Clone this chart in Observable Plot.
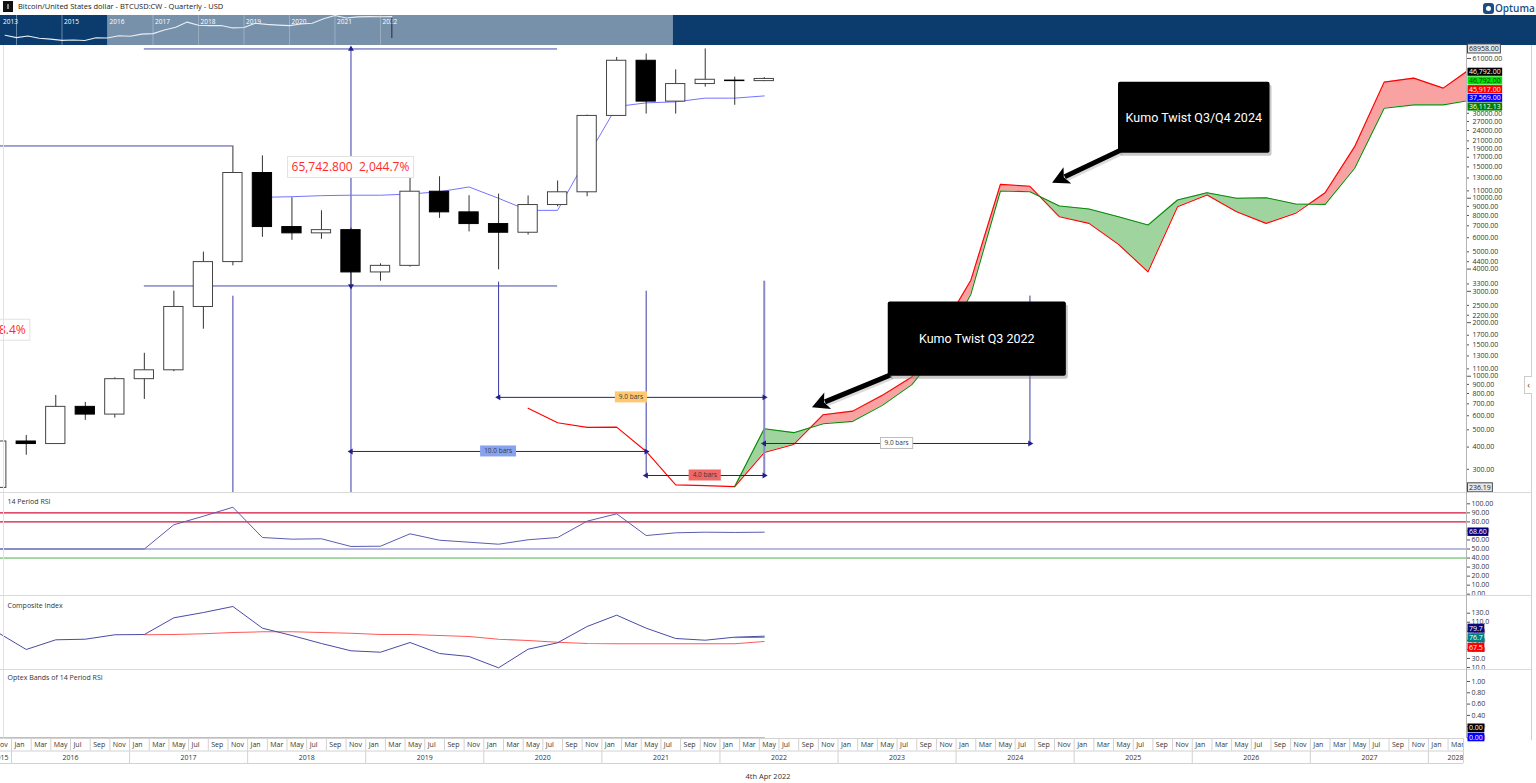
<!DOCTYPE html>
<html>
<head>
<meta charset="utf-8">
<script src="https://cdn.jsdelivr.net/npm/d3@7"></script>
<script src="https://cdn.jsdelivr.net/npm/@observablehq/plot@0.6"></script>
<style>
  html,body{margin:0;padding:0;background:#fff;}
  #root{position:relative;width:1536px;height:783px;overflow:hidden;background:#fff;font-family:'Open Sans',sans-serif;color:#333;}
  .ln{position:absolute;background:#d9d9d9;}
</style>
</head>
<body>
<div id="root">
  <div style="position:absolute;left:3px;top:1px;width:10px;height:11px;background:#111;"></div>
  <div style="position:absolute;left:7px;top:4px;width:2px;height:5px;background:#888;"></div>
  <div style="position:absolute;left:18px;top:0;height:13px;line-height:13px;font-size:7.5px;color:#222;white-space:nowrap;">Bitcoin/United States dollar - BTCUSD:CW - Quarterly - USD</div>
  <div style="position:absolute;left:1483px;top:3px;width:11px;height:11px;border-radius:3px;background:#1b4f82;"></div>
  <div style="position:absolute;left:1486px;top:6px;width:5px;height:5px;border-radius:50%;background:#fff;"></div>
  <div style="position:absolute;left:1495px;top:0px;font-size:10px;line-height:16px;color:#1b4f82;font-weight:600;white-space:nowrap;">Optuma</div>
  <div style="position:absolute;left:0;top:771px;width:1536px;text-align:center;font-size:7.5px;line-height:10px;color:#333;">4th Apr 2022</div>
</div>
<script>
// ================= DATA =================
const quarters = ["2015 Q4","2016 Q1","2016 Q2","2016 Q3","2016 Q4","2017 Q1","2017 Q2","2017 Q3","2017 Q4","2018 Q1","2018 Q2","2018 Q3","2018 Q4","2019 Q1","2019 Q2","2019 Q3","2019 Q4","2020 Q1","2020 Q2","2020 Q3","2020 Q4","2021 Q1","2021 Q2","2021 Q3","2021 Q4","2022 Q1","2022 Q2"];
const open  = [236, 430, 416, 673, 609, 963, 1080, 2450, 4378, 13860, 6890, 6350, 6620, 3830, 4170, 10880, 8330, 7160, 6400, 9160, 10800, 29000, 59200, 34900, 43800, 45800, 45500];
const high  = [504, 465, 780, 713, 980, 1346, 3005, 4980, 19666, 17300, 10070, 8500, 6800, 4280, 13390, 13200, 10330, 10550, 10300, 12500, 29300, 61800, 64600, 52600, 68958, 47900, 47600];
const low   = [235, 360, 415, 565, 582, 741, 1060, 1838, 4170, 6030, 5800, 5880, 3215.2, 3420, 4100, 7710, 6470, 3960, 6210, 8950, 10200, 28800, 29700, 29700, 42100, 33300, 45200];
const close = [430, 416, 673, 609, 963, 1080, 2450, 4378, 13860, 6890, 6350, 6620, 3830, 4170, 10880, 8330, 7160, 6400, 9160, 10800, 29000, 59200, 34900, 43800, 46300, 45500, 46792];

const kijunQuarters = ["2018 Q1","2018 Q2","2018 Q3","2018 Q4","2019 Q1","2019 Q2","2019 Q3","2019 Q4","2020 Q1","2020 Q2","2020 Q3","2020 Q4","2021 Q1","2021 Q2","2021 Q3","2021 Q4","2022 Q1","2022 Q2"];
const kijun = [10120, 10200, 10340, 10400, 10400, 10560, 10880, 11570, 9990, 8550, 8550, 17000, 32740, 34340, 34800, 36500, 36500, 37569];

const spanQuarters = ["2020 Q2","2020 Q3","2020 Q4","2021 Q1","2021 Q2","2021 Q3","2021 Q4","2022 Q1","2022 Q2","2022 Q3","2022 Q4","2023 Q1","2023 Q2","2023 Q3","2023 Q4","2024 Q1","2024 Q2","2024 Q3","2024 Q4","2025 Q1","2025 Q2","2025 Q3","2025 Q4","2026 Q1","2026 Q2","2026 Q3","2026 Q4","2027 Q1","2027 Q2","2027 Q3","2027 Q4","2028 Q1","2028 Q2"];
const spanRed = [662, 548, 516, 518, 378, 245.5, 243, 240, 373, 414, 608, 637, 781, 990, 1813, 3465, 11970, 11670, 7870, 7225, 5505, 3860, 8960, 10420, 8400, 7225, 8225, 10740, 19490, 44900, 47300, 41550, 54480];
const spanGreenQuarters = spanQuarters.slice(7);
const spanGreen = [240, 507, 482, 541, 558, 686, 897, 1436, 2890, 10980, 10880, 9040, 8700, 7870, 7070, 9770, 10740, 9990, 10070, 9280, 9240, 14740, 32060, 33460, 33460, 35700];

const rsi = [50, 50, 50, 50, 50, 50, 76.8, 86.3, 96.2, 62.7, 60.9, 61.3, 52.8, 53.1, 66.8, 59.7, 57.5, 55.3, 60.2, 62.7, 80.8, 88.9, 64.9, 67.9, 68.6, 68.3, 68.6];
const rsiUpperLevels = [90, 80];
const rsiMidLevel = [50];
const rsiLowLevel = [40];

const compositeFast = [88.7, 49.8, 71.2, 72.5, 82.3, 82.9, 119.8, 131.5, 144.8, 96.9, 80.7, 63, 46.9, 43.8, 65.2, 40.9, 34.3, 9.3, 50.4, 64.6, 100.6, 125.6, 96.9, 74.1, 70.3, 77, 79.2];
const compositeSlowQuarters = quarters.slice(5);
const compositeSlow = [82.3, 82.9, 84.5, 87.3, 88.9, 88.9, 87.3, 85.8, 82.9, 82.9, 80.7, 78.5, 72.5, 69.7, 65.9, 63, 62.4, 62.4, 62.4, 62.4, 62.4, 67.5];
const compositeTealQuarters = ["2022 Q1", "2022 Q2"];
const compositeTeal = [76.0, 76.7];

const optexBand = [0,0,0,0,0,0,0,0,0,0,0,0,0,0,0,0,0,0,0,0,0,0,0,0,0,0,0];

const navEarlyQuarters = ["2013 Q4","2014 Q1","2014 Q2","2014 Q3","2014 Q4","2015 Q1","2015 Q2","2015 Q3"];
const navEarlyClose = [757, 445, 640, 386, 320, 244, 263, 236];
const navYearLines = [2014, 2015, 2016, 2017, 2018, 2019, 2020, 2021, 2022];
const navYearLabels = ["2013", "2015", "2016", "2017", "2018", "2019", "2020", "2021", "2022"];
const navYearLabelAt = [2013.66, 2015, 2016, 2017, 2018, 2019, 2020, 2021, 2022];
const navWindow = [2016.02, 2028.44];

const priceTicks = [61000, 30000, 27000, 24000, 21000, 19000, 17000, 15000, 13000, 11000, 10000, 9000, 8000, 7000, 6000, 5000, 4400, 4000, 3300, 3000, 2500, 2200, 2000, 1700, 1500, 1300, 1100, 1000, 900, 800, 700, 600, 500, 400, 300];
const priceLongTicks = [61000, 10000, 4000, 3000, 2000, 1000];
const rsiTicks = [100, 90, 80, 70, 60, 50, 40, 30, 20, 10, 0];
const compTicks = [130, 110, 90, 70, 50, 30, 10];
const optexTicks = [1, 0.8, 0.6, 0.4, 0.2, 0];

const monthNames = ["Jan", "Mar", "May", "Jul", "Sep", "Nov"];
const years = [2015, 2016, 2017, 2018, 2019, 2020, 2021, 2022, 2023, 2024, 2025, 2026, 2027, 2028];

// annotations
const athLevels = [68958, 3215.2];
const athSpan = ["2017 Q1", "2020 Q3"];
const measureLabel = "65,742.800  2,044.7%";
const leftLevel = 19666;
const leftMeasureLabel = "8.4%";
const leftMeasurePrice = 1813;
const guides = [
  {at: "2017 Q4", top: 2816, bottom: null},
  {at: "2018 Q4", top: 68958, bottom: null},
  {at: "2020 Q1", top: 3378, bottom: 761},
  {at: "2021 Q2", top: 3006, bottom: 277},
  {at: "2022 Q2", top: 3422, bottom: 277},
  {at: "2024 Q3", top: 2821, bottom: 419}
];
const barCounts = [
  {from: "2018 Q4", to: "2021 Q2", price: 378, label: "10.0 bars", fill: "#87a2ee", stroke: "none"},
  {from: "2020 Q1", to: "2022 Q2", price: 761, label: "9.0 bars", fill: "#ffc86e", stroke: "none"},
  {from: "2021 Q2", to: "2022 Q2", price: 277, label: "4.0 bars", fill: "#f26666", stroke: "none"},
  {from: "2022 Q2", to: "2024 Q3", price: 419, label: "9.0 bars", fill: "#ffffff", stroke: "#bdbdbd"}
];
const kumoNotes = [
  {text: "Kumo Twist Q3/Q4 2024", m1: 112.5, m2: 127.9, p1: 17900, p2: 44900, tailM: 112.7, tailP: 18440, tipM: 105.8, tipP: 12130},
  {text: "Kumo Twist Q3 2022", m1: 89.1, m2: 107.2, p1: 999, p2: 2617, tailM: 89.4, tailP: 1012, tipM: 81.4, tipP: 666}
];
const priceFlags = [
  {value: 46792, text: "46,792.00", fill: "#000000", color: "#ffffff"},
  {value: 46792, text: "46,792.00", fill: "#00e400", color: "#063806"},
  {value: 45917, text: "45,917.00", fill: "#ff0000", color: "#ffffff"},
  {value: 37569, text: "37,569.00", fill: "#0000ff", color: "#ffffff"},
  {value: 36112.13, text: "36,112.13", fill: "#008000", color: "#ffffff"}
];
const priceExtremes = [{value: 68958, text: "68958.00"}, {value: 236.19, text: "236.19"}];
const rsiFlags = [{value: 68.6, text: "68.60", fill: "#00007a", color: "#ffffff"}];
const compFlags = [
  {value: 79.7, text: "79.7", fill: "#0a0a78", color: "#ffffff"},
  {value: 76.7, text: "76.7", fill: "#008080", color: "#ffffff"},
  {value: 67.5, text: "67.5", fill: "#ff0000", color: "#ffffff"}
];
const optexFlags = [
  {value: 0, text: "0.00", fill: "#000000", color: "#ffffff"},
  {value: 0, text: "0.00", fill: "#0000ff", color: "#ffffff"}
];

// ================= LAYOUT =================
const W = 1536, XR = 1466;
const pxPerMonth = 9.84, jan2016px = 11;
const xDomain = [(0 - jan2016px) / pxPerMonth, (XR - jan2016px) / pxPerMonth];
const qm = q => { const [y, n] = q.split(" Q"); return (+y - 2016) * 12 + (+n - 1) * 3 + 1.5; };
const qy = q => { const [y, n] = q.split(" Q"); return +y + (+n - 1) / 4; };

const root = document.getElementById("root");
function place(el, top, left = 0) {
  el.style.position = "absolute"; el.style.top = top + "px"; el.style.left = left + "px";
  root.appendChild(el); return el;
}
function hline(top, left, width, color) {
  const d = document.createElement("div"); d.className = "ln";
  d.style.cssText += `top:${top}px;left:${left}px;width:${width}px;height:1px;` + (color ? `background:${color};` : "");
  root.appendChild(d);
}
function vline(left, top, height, color) {
  const d = document.createElement("div"); d.className = "ln";
  d.style.cssText += `top:${top}px;left:${left}px;width:1px;height:${height}px;` + (color ? `background:${color};` : "");
  root.appendChild(d);
}
const baseStyle = {background: "transparent", fontFamily: "'Open Sans', sans-serif", fontSize: "7px", color: "#333", overflow: "visible"};
function panel(h, y, marks) {
  return Plot.plot({
    width: W, height: h, marginLeft: 0, marginRight: W - XR, marginTop: 0, marginBottom: 0,
    style: baseStyle, x: {type: "linear", domain: xDomain, axis: null}, y, marks
  });
}
function rightAxis(ticks, fmt) {
  return Plot.axisY({anchor: "right", ticks, tickFormat: fmt, tickSize: 3, tickPadding: 2, label: null, fontSize: 7, stroke: "#555"});
}

// ---- navigator ----
const navData = navEarlyQuarters.map((q, i) => ({t: qy(q), v: navEarlyClose[i]}))
  .concat(quarters.map((q, i) => ({t: qy(q), v: close[i]})));
const nav = Plot.plot({
  width: W, height: 30, margin: 0,
  style: {...baseStyle, background: "#0b3c6d"},
  x: {type: "linear", domain: [2013.648, 2047.41], axis: null},
  y: {type: "log", domain: [78, 59920], axis: null},
  marks: [
    Plot.rect([navWindow], {x1: d => d[0], x2: d => d[1], y1: 78, y2: 59920, fill: "#7791ab"}),
    Plot.ruleX(navYearLines, {stroke: "#b8c7d6", strokeOpacity: 0.55}),
    Plot.text(navYearLabels, {x: (d, i) => navYearLabelAt[i], text: d => d, frameAnchor: "top", dy: 4, dx: 2, textAnchor: "start", fill: "#ffffff", fontSize: 6.5}),
    Plot.line(navData, {x: "t", y: "v", stroke: "#e8eef5", strokeWidth: 1.1}),
    Plot.ruleX([qy("2022 Q2")], {y1: 367, y2: 30740, stroke: "#2b2b2b"})
  ]
});
place(nav, 15);

// ---- main price panel ----
const candles = quarters.map((q, i) => ({m: qm(q), o: open[i], h: high[i], l: low[i], c: close[i]}));
const kijunData = kijunQuarters.map((q, i) => ({m: qm(q), v: kijun[i]}));
const redData = spanQuarters.map((q, i) => ({m: qm(q), v: spanRed[i]}));
const greenData = spanGreenQuarters.map((q, i) => ({m: qm(q), v: spanGreen[i]}));
const cloudData = spanGreenQuarters.map((q, i) => ({m: qm(q), red: spanRed[i + 7], green: spanGreen[i]}));
const yMainDomain = [222.3, 72120];
const tickLen = 3 / pxPerMonth, longTickLen = 5 / pxPerMonth;

const arrowHeads = [];
barCounts.forEach(b => {
  arrowHeads.push({m: qm(b.from), p: b.price, r: -90});
  arrowHeads.push({m: qm(b.to), p: b.price, r: 90});
});
arrowHeads.push({m: qm("2018 Q4"), p: athLevels[0], r: 0});
arrowHeads.push({m: qm("2018 Q4"), p: athLevels[1], r: 180});

const cloudMarks = Plot.differenceY
  ? [Plot.differenceY(cloudData, {x: "m", y1: "red", y2: "green", positiveFill: "#9fd49f", negativeFill: "#f9a2a2", fillOpacity: 1, stroke: "none", clip: true})]
  : [Plot.areaY(cloudData, {x: "m", y1: "red", y2: d => Math.max(d.red, d.green), fill: "#9fd49f", clip: true}),
     Plot.areaY(cloudData, {x: "m", y1: "green", y2: d => Math.max(d.red, d.green), fill: "#f9a2a2", clip: true})];

const main = panel(447, {type: "log", domain: yMainDomain, axis: null}, [
  ...cloudMarks,
  Plot.line(redData, {x: "m", y: "v", stroke: "#ff0000", strokeWidth: 1.1, clip: true}),
  Plot.line(greenData, {x: "m", y: "v", stroke: "#0a8a0a", strokeWidth: 1.1, clip: true}),
  // annotation lines
  Plot.ruleY(athLevels, {y: d => d, x1: qm(athSpan[0]), x2: qm(athSpan[1]), stroke: "#4848a8"}),
  Plot.ruleY([leftLevel], {y: d => d, x1: xDomain[0], x2: qm("2017 Q4"), stroke: "#4848a8", clip: true}),
  Plot.ruleX(guides, {x: d => qm(d.at), y1: d => d.bottom ?? yMainDomain[0], y2: "top", stroke: d => d.at === "2022 Q2" ? "#8a8ac8" : "#3a3aa6", strokeWidth: d => d.at === "2022 Q2" ? 2 : 1}),
  Plot.ruleY(barCounts, {y: "price", x1: d => qm(d.from), x2: d => qm(d.to), stroke: "#20208e"}),
  Plot.dot(arrowHeads, {x: "m", y: "p", rotate: "r", symbol: "triangle", r: 2.2, fill: "#20208e", stroke: "none"}),
  // kijun
  Plot.line(kijunData, {x: "m", y: "v", stroke: "#7474ff", strokeWidth: 1}),
  // candles
  Plot.ruleX(candles, {x: "m", y1: "l", y2: "h", stroke: "#333", strokeWidth: 1, clip: true}),
  Plot.rect(candles, {x1: d => d.m - 0.98, x2: d => d.m + 0.98, y1: d => Math.min(d.o, d.c), y2: d => Math.max(d.o, d.c), fill: d => d.c >= d.o ? "#ffffff" : "#000000", stroke: d => d.c >= d.o ? "#444" : "#000", strokeWidth: 1, clip: true}),
  // right price axis (explicit ticks and labels)
  Plot.ruleY(priceTicks, {y: d => d, x1: xDomain[1], x2: d => xDomain[1] + (priceLongTicks.includes(d) ? longTickLen : tickLen), stroke: "#555"}),
  Plot.text(priceTicks, {y: d => d, frameAnchor: "right", dx: 6, textAnchor: "start", text: d => d.toFixed(2), fontSize: 7, fill: "#333"})
]);
place(main, 45);

// ---- RSI ----
const rsiData = quarters.map((q, i) => ({m: qm(q), v: rsi[i]}));
const rsiPlot = panel(102, {domain: [-1.44, 111.4]}, [
  Plot.ruleY(rsiUpperLevels, {stroke: "#d2143c", strokeWidth: 1.2}),
  Plot.ruleY(rsiMidLevel, {stroke: "#7777c4", strokeWidth: 1.2}),
  Plot.ruleY(rsiLowLevel, {stroke: "#4cae4c", strokeWidth: 1}),
  Plot.line(rsiData, {x: "m", y: "v", stroke: "#5c5cb4", strokeWidth: 1, clip: true}),
  Plot.text(["14 Period RSI"], {text: d => d, frameAnchor: "top-left", dx: 7, dy: 6, fontSize: 7, fill: "#333"}),
  rightAxis(rsiTicks, d => d.toFixed(2))
]);
place(rsiPlot, 493);

// ---- Composite ----
const compFastData = quarters.map((q, i) => ({m: qm(q), v: compositeFast[i]}));
const compSlowData = compositeSlowQuarters.map((q, i) => ({m: qm(q), v: compositeSlow[i]}));
const compTealData = compositeTealQuarters.map((q, i) => ({m: qm(q), v: compositeTeal[i]}));
const compPlot = panel(74, {domain: [5.58, 169.1]}, [
  Plot.line(compSlowData, {x: "m", y: "v", stroke: "#ff5a5a", strokeWidth: 1.1, clip: true}),
  Plot.line(compFastData, {x: "m", y: "v", stroke: "#4a4aa8", strokeWidth: 1, clip: true}),
  Plot.line(compTealData, {x: "m", y: "v", stroke: "#2a9aa0", strokeWidth: 1, clip: true}),
  Plot.text(["Composite Index"], {text: d => d, frameAnchor: "top-left", dx: 7, dy: 8, fontSize: 7, fill: "#333"}),
  rightAxis(compTicks, d => d.toFixed(1))
]);
place(compPlot, 595);

// ---- Optex ----
const optexData = quarters.map((q, i) => ({m: qm(q), v: optexBand[i]}));
const optexPlot = panel(69, {domain: [-0.0088, 1.212]}, [
  Plot.line(optexData, {x: "m", y: "v", stroke: "#c99aab", strokeWidth: 1.5, clip: true}),
  Plot.text(["Optex Bands of 14 Period RSI"], {text: d => d, frameAnchor: "top-left", dx: 7, dy: 6, fontSize: 7, fill: "#333"}),
  rightAxis(optexTicks, d => d.toFixed(2))
]);
place(optexPlot, 669);

// ---- time axis ----
const monthCells = [];
years.forEach(y => monthNames.forEach((name, k) => {
  const m = (y - 2016) * 12 + 2 * k;
  if (m >= xDomain[0] - 2 && m <= xDomain[1]) monthCells.push({m, name});
}));
const yearCells = years.map(y => {
  const a = (y - 2016) * 12, b = a + 12;
  const full = a >= xDomain[0] && b <= xDomain[1];
  return {y, a, full, lx: full ? (a + b) / 2 : Math.min(b, xDomain[1]) - 0.3};
});
const axisPlot = Plot.plot({
  width: W, height: 26, marginLeft: 0, marginRight: W - XR + 3, marginTop: 0, marginBottom: 0,
  style: baseStyle,
  x: {type: "linear", domain: [xDomain[0], xDomain[1] - 0.3], axis: null},
  y: {domain: [0, 2], range: [0, 25], axis: null},
  marks: [
    Plot.ruleX(monthCells, {x: "m", y1: 0, y2: 1, stroke: "#d2d2d2", clip: true}),
    Plot.text(monthCells, {x: d => d.m + 0.3, y: 0.5, text: "name", textAnchor: "start", fontSize: 7, fill: "#333", clip: true}),
    Plot.ruleX(yearCells, {x: "a", y1: 1, y2: 2, stroke: "#d2d2d2", clip: true}),
    Plot.text(yearCells.filter(d => d.full), {x: "lx", y: 1.5, text: d => String(d.y), fontSize: 7, fill: "#333"}),
    Plot.text(yearCells.filter(d => !d.full), {x: "lx", y: 1.5, text: d => String(d.y), textAnchor: "end", fontSize: 7, fill: "#333", clip: true}),
    Plot.ruleY([0, 1, 2], {stroke: "#d2d2d2"}),
    Plot.ruleX([xDomain[1] - 0.3], {y1: 0, y2: 2, stroke: "#d2d2d2"})
  ]
});
place(axisPlot, 738);

// ---- frame lines ----
hline(492, 0, 1532); hline(595, 0, 1532); hline(669, 0, 1532);
vline(XR, 45, 693, "#b5b5b5");
vline(1531, 45, 695, "#d0d0d0");
vline(3, 45, 693, "#e2e2e2");
{
  const b = document.createElement("div");
  b.style.cssText = "position:absolute;left:1524px;top:376px;width:7px;height:16px;border:1px solid #ccc;border-right:none;background:#fff;font-size:9px;line-height:16px;text-align:center;color:#444;";
  b.textContent = "‹"; root.appendChild(b);
}

// ================= POST-PROCESS (labels drawn through the plots' scales) =================
function addBox(svg, {x, y, text, fontSize = 7, fill = "#fff", stroke = "none", color = "#000", anchor = "middle", padX = 2, h = null, font = null, radius = 0}) {
  const g = d3.select(svg).append("g");
  const t = g.append("text").attr("x", x).attr("y", y).attr("dy", "0.36em").attr("text-anchor", anchor)
    .attr("fill", color).attr("font-size", fontSize).style("white-space", "pre").text(text);
  if (font) t.attr("font-family", font);
  const bb = t.node().getBBox();
  const hh = h ?? bb.height + 2;
  g.insert("rect", "text").attr("x", bb.x - padX).attr("y", y - hh / 2).attr("width", bb.width + 2 * padX).attr("height", hh)
    .attr("rx", radius).attr("fill", fill).attr("stroke", stroke).attr("stroke-width", 1);
  return g;
}
function stackPositions(ys, h, lo, hi) {
  const y = ys.slice();
  for (let it = 0; it < 600; it++) {
    let moved = false;
    for (let k = 0; k < y.length - 1; k++) {
      const d = y[k + 1] - y[k];
      if (d < h - 0.001) { const s = (h - d) / 2; y[k] -= s; y[k + 1] += s; moved = true; }
    }
    if (!moved) break;
  }
  let shift = 0;
  if (y[0] < lo) shift = lo - y[0];
  if (y[y.length - 1] + shift > hi) shift = hi - y[y.length - 1];
  return y.map(v => v + shift);
}
function addFlags(plot, flags, h, lo, hi, bias = 0) {
  const sy = plot.scale("y");
  const items = flags.map(f => ({...f, y0: sy.apply(f.value)})).sort((a, b) => a.y0 - b.y0);
  const ys = stackPositions(items.map(d => d.y0 + bias), h, lo, hi);
  items.forEach((f, k) => addBox(plot, {x: XR + 3, y: ys[k], text: f.text, fill: f.fill, color: f.color, anchor: "start", padX: 1.5, h: h - 0.6, fontSize: 7}));
}

const sxM = main.scale("x"), syM = main.scale("y");
// extremes
priceExtremes.forEach(e => addBox(main, {x: XR + 3, y: syM.apply(e.value), text: e.text, fill: "#e9e9e9", stroke: "#4a4a4a", color: "#222", anchor: "start", padX: 1.5, h: 9, fontSize: 7}));
addFlags(main, priceFlags, 8.7, 5, 440, 3);
addFlags(rsiPlot, rsiFlags, 9, 5, 100);
addFlags(compPlot, compFlags, 9.6, 5, 73);
addFlags(optexPlot, optexFlags, 9.2, 5, 68);

// measurement labels
addBox(main, {x: sxM.apply(qm("2018 Q4")), y: syM.apply(Math.sqrt(athLevels[0] * athLevels[1])), text: measureLabel, fontSize: 12, fill: "#ffffff", stroke: "#e2e2e2", color: "#ff2b2b", padX: 4, h: 21});
addBox(main, {x: sxM.apply(qm("2016 Q1")), y: syM.apply(leftMeasurePrice), text: leftMeasureLabel, fontSize: 12, fill: "#ffffff", stroke: "#e2e2e2", color: "#ff2b2b", anchor: "end", padX: 4, h: 21});
// bar count labels
barCounts.forEach(b => addBox(main, {x: sxM.apply((qm(b.from) + qm(b.to)) / 2), y: syM.apply(b.price), text: b.label, fontSize: 6.5, fill: b.fill, stroke: b.stroke, color: "#3a3a3a", padX: 4, h: 11}));

// Kumo notes with arrows
kumoNotes.forEach(n => {
  const g = d3.select(main).append("g");
  const x1 = sxM.apply(n.m1), x2 = sxM.apply(n.m2), y1 = syM.apply(n.p2), y2 = syM.apply(n.p1);
  const ax0 = sxM.apply(n.tailM), ay0 = syM.apply(n.tailP), ax1 = sxM.apply(n.tipM), ay1 = syM.apply(n.tipP);
  const dx = ax1 - ax0, dy = ay1 - ay0, L = Math.hypot(dx, dy), ux = dx / L, uy = dy / L, nx = -uy, ny = ux;
  const hl = 17, hw = 9;
  const bx = ax1 - ux * hl, by = ay1 - uy * hl;
  g.append("line").attr("x1", ax0 + 2).attr("y1", ay0 + 2).attr("x2", bx + ux * 3 + 2).attr("y2", by + uy * 3 + 2).attr("stroke", "#999").attr("stroke-opacity", 0.35).attr("stroke-width", 5);
  g.append("line").attr("x1", ax0).attr("y1", ay0).attr("x2", bx + ux * 3).attr("y2", by + uy * 3).attr("stroke", "#000").attr("stroke-width", 5);
  g.append("path").attr("d", `M${ax1},${ay1}L${bx + nx * hw},${by + ny * hw}L${bx + ux * 4},${by + uy * 4}L${bx - nx * hw},${by - ny * hw}Z`).attr("fill", "#000");
  g.append("rect").attr("x", x1 + 2).attr("y", y1 + 3).attr("width", x2 - x1).attr("height", y2 - y1).attr("rx", 2).attr("fill", "#888").attr("opacity", 0.45);
  g.append("rect").attr("x", x1).attr("y", y1).attr("width", x2 - x1).attr("height", y2 - y1).attr("rx", 2).attr("fill", "#000");
  g.append("text").attr("x", (x1 + x2) / 2).attr("y", (y1 + y2) / 2).attr("dy", "0.35em").attr("text-anchor", "middle")
    .attr("fill", "#fff").attr("font-size", 12.5).attr("font-family", "Roboto, 'Liberation Sans', sans-serif").text(n.text);
});
</script>
</body>
</html>
